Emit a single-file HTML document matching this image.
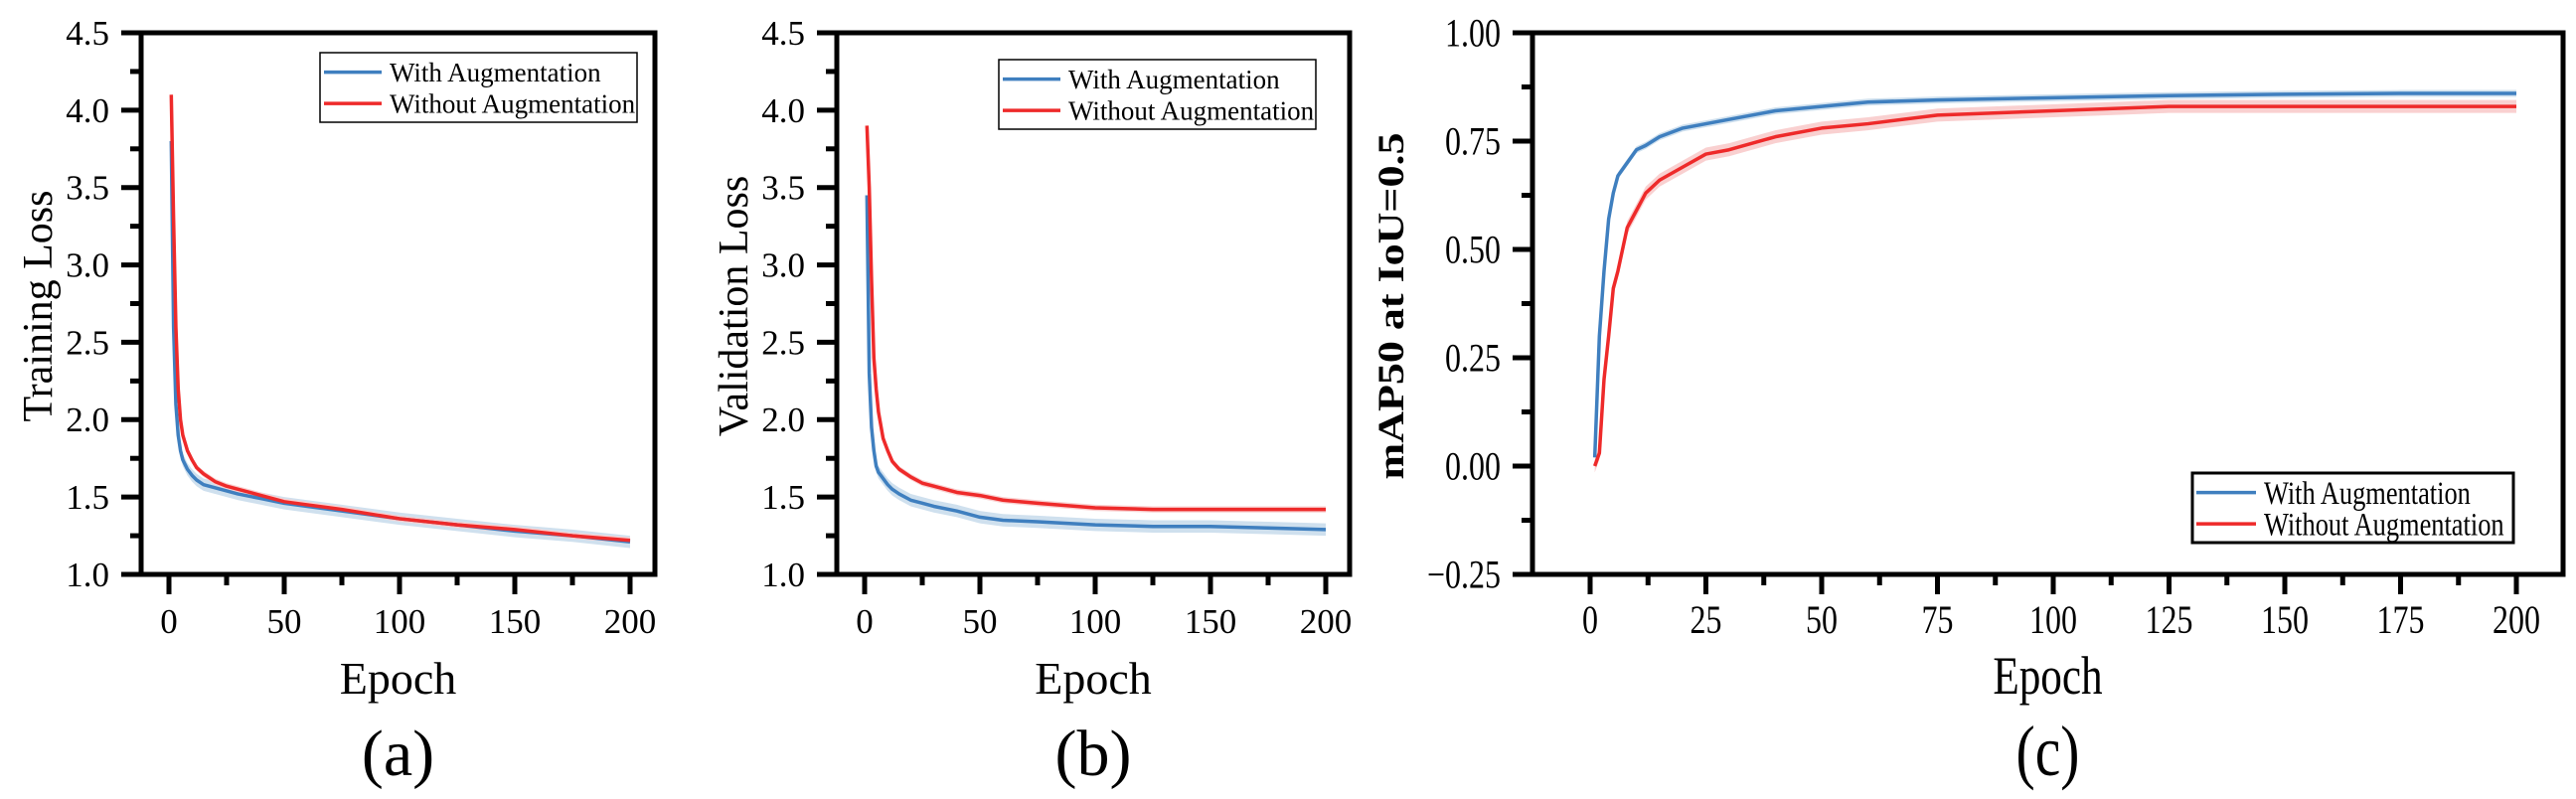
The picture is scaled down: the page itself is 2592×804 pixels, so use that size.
<!DOCTYPE html>
<html><head><meta charset="utf-8"><style>
html,body{margin:0;padding:0;background:#fff;}
svg{display:block;font-family:"Liberation Serif",serif;}
</style></head><body>
<svg id="fig" width="2592" height="804" viewBox="0 0 2592 804" xmlns="http://www.w3.org/2000/svg"></svg>
<script>
const epochs = [1,2,3,4,5,6,8,10,12,15,20,25,30,40,50,60,75,100,125,150,175,200];
const trainWith = [3.8,2.6,2.1,1.9,1.8,1.74,1.68,1.64,1.61,1.58,1.56,1.54,1.52,1.49,1.46,1.44,1.41,1.36,1.32,1.28,1.25,1.21];
const trainWithout = [4.1,3.3,2.6,2.2,2.0,1.9,1.8,1.74,1.69,1.65,1.60,1.57,1.55,1.51,1.47,1.45,1.42,1.36,1.32,1.29,1.25,1.22];
const valWith = [3.45,2.3,1.95,1.8,1.7,1.66,1.62,1.58,1.55,1.52,1.48,1.46,1.44,1.41,1.37,1.35,1.34,1.32,1.31,1.31,1.30,1.29];
const valWithout = [3.9,3.5,2.9,2.4,2.2,2.05,1.88,1.8,1.73,1.68,1.63,1.59,1.57,1.53,1.51,1.48,1.46,1.43,1.42,1.42,1.42,1.42];
const mapWith = [0.02,0.3,0.45,0.57,0.63,0.67,0.70,0.73,0.74,0.76,0.78,0.79,0.80,0.82,0.83,0.84,0.845,0.85,0.855,0.858,0.86,0.86];
const mapWithout = [0.0,0.03,0.2,0.3,0.41,0.45,0.55,0.59,0.63,0.66,0.69,0.72,0.73,0.76,0.78,0.79,0.81,0.82,0.83,0.83,0.83,0.83];
const lossTicks = ["1.0","1.5","2.0","2.5","3.0","3.5","4.0","4.5"];
const mapTicks = ["\u22120.25","0.00","0.25","0.50","0.75","1.00"];
const epochTicksAB = ["0","50","100","150","200"];
const epochTicksC = ["0","25","50","75","100","125","150","175","200"];
const legendLabels = ["With Augmentation","Without Augmentation"];

const NS="http://www.w3.org/2000/svg";
const svg=document.getElementById('fig');
const BLUE="#3f7fbf", RED="#ee2a2a", BBAND="#cfe0ee", RBAND="#f9d0d0";
function mk(tag,attrs,parent){const e=document.createElementNS(NS,tag);for(const k in attrs)e.setAttribute(k,attrs[k]);(parent||svg).appendChild(e);return e;}

function panel(cfg){
  const g=mk('g',{});
  
  
  const {L,R,T,B,x0,x1,ymin,ymax}=cfg;
  const X=v=>x0+(v/200)*(x1-x0);
  const Y=v=>B-(v-ymin)/(ymax-ymin)*(B-T);
  const sx=cfg.sx||1;
  const tf=cfg.tickFs||35, ef=cfg.epochFs||46, cf=cfg.capFs||66;
  cfg.series.forEach((s)=>{
    let up=epochs.map((e,i)=>X(e)+','+Y(s.vals[i]+s.band)).join(' ');
    let dn=epochs.map((e,i)=>X(e)+','+Y(s.vals[i]-s.band)).reverse().join(' ');
    const band=mk('polygon',{points:up+' '+dn,fill:s.bandColor,stroke:'none'},g);
    
    
  });
  cfg.series.forEach((s)=>{
    const pl=mk('polyline',{points:epochs.map((e,i)=>X(e)+','+Y(s.vals[i])).join(' '),fill:'none',stroke:s.color,'stroke-width':3.5,'stroke-linejoin':'round'},g);
    
    
  });
  const fr=mk('rect',{x:L,y:T,width:R-L,height:B-T,fill:'none',stroke:'#000','stroke-width':5},g);
  
  
  const yt=cfg.yTicks;
  const step=(ymax-ymin)/(yt.length-1);
  for(let i=0;i<yt.length;i++){
    const v=ymin+i*step, y=Y(v);
    mk('line',{x1:L-20,x2:L,y1:y,y2:y,stroke:'#000','stroke-width':5},g);
    if(i<yt.length-1){const ym=Y(v+step/2);mk('line',{x1:L-11,x2:L,y1:ym,y2:ym,stroke:'#000','stroke-width':5},g);}
    const t=mk('text',{x:0,y:0,'font-size':tf,'text-anchor':'end',transform:`translate(${cfg.yLabX},${y+tf*0.34}) scale(${sx},1)`},g);
    t.textContent=yt[i];
    
    
  }
  const xt=cfg.xTicks, xs=200/(xt.length-1);
  for(let i=0;i<xt.length;i++){
    const v=i*xs,x=X(v);
    mk('line',{x1:x,x2:x,y1:B,y2:B+20,stroke:'#000','stroke-width':5},g);
    if(i<xt.length-1){const xm=X(v+xs/2);mk('line',{x1:xm,x2:xm,y1:B,y2:B+11,stroke:'#000','stroke-width':5},g);}
    const t=mk('text',{x:0,y:0,'font-size':tf,'text-anchor':'middle',transform:`translate(${x},${637}) scale(${sx},1)`},g);
    t.textContent=xt[i];
    
    
  }
  const xtl=mk('text',{x:0,y:0,'font-size':ef,'text-anchor':'middle',transform:`translate(${(L+R)/2},${698}) scale(${sx},1)`},g);
  xtl.textContent='Epoch';
  
  
  const ytl=mk('text',{x:0,y:0,'font-size':cfg.ytSize||42,'font-weight':cfg.ytBold?'bold':'normal','text-anchor':'middle',transform:`translate(${cfg.ytX},${308}) rotate(-90) scale(1,${cfg.ytSy||1})`},g);
  ytl.textContent=cfg.yTitle;
  
  
  const cap=mk('text',{x:0,y:0,'font-size':cf,'text-anchor':'middle',transform:`translate(${(L+R)/2},${780}) scale(${sx},1)`},g);
  cap.textContent=cfg.caption;
  
  
  const lg=mk('g',{},g);
  
  
  const Lg=cfg.legend;
  mk('rect',{x:Lg.x,y:Lg.y,width:Lg.w,height:Lg.h,fill:'#fff',stroke:'#000','stroke-width':Lg.sw},lg);
  cfg.series.forEach((s,i)=>{
    const ry=Lg.y+Lg.h*(i===0?0.28:0.73);
    mk('line',{x1:Lg.x+4,x2:Lg.x+Lg.lineW,y1:ry,y2:ry,stroke:s.color,'stroke-width':3.5},lg);
    const t=mk('text',{x:0,y:0,'font-size':Lg.fs,transform:`translate(${Lg.x+Lg.lineW+8},${ry+Lg.fs*0.34}) scale(${sx},1)`},lg);
    t.textContent=legendLabels[i];
    
    
  });
}

panel({name:'panel-a-training-loss',L:142,R:659,T:33,B:578,x0:170,x1:634,ymin:1.0,ymax:4.5,
  yTicks:lossTicks,xTicks:epochTicksAB,yLabX:110,yTitle:'Training Loss',ytX:52,caption:'(a)',
  series:[{key:'train-with',vals:trainWith,band:0.04,color:BLUE,bandColor:BBAND},{key:'train-without',vals:trainWithout,band:0.02,color:RED,bandColor:RBAND}],
  legend:{x:322,y:53,w:319,h:70,sw:1.5,lineW:62,fs:27}});
panel({name:'panel-b-validation-loss',L:842,R:1358,T:33,B:578,x0:870,x1:1334,ymin:1.0,ymax:4.5,
  yTicks:lossTicks,xTicks:epochTicksAB,yLabX:810,yTitle:'Validation Loss',ytX:752,caption:'(b)',
  series:[{key:'val-with',vals:valWith,band:0.04,color:BLUE,bandColor:BBAND},{key:'val-without',vals:valWithout,band:0.02,color:RED,bandColor:RBAND}],
  legend:{x:1005,y:60,w:319,h:70,sw:1.5,lineW:62,fs:27}});
panel({name:'panel-c-map50',L:1542,R:2579,T:33,B:578,x0:1600,x1:2532,ymin:-0.25,ymax:1.0,sx:0.8,tickFs:40,epochFs:54,capFs:72,
  yTicks:mapTicks,xTicks:epochTicksC,yLabX:1510,yTitle:'mAP50 at IoU=0.5',ytX:1412,ytBold:true,ytSize:44,ytSy:0.85,caption:'(c)',
  series:[{key:'map-with',vals:mapWith,band:0.008,color:BLUE,bandColor:BBAND},{key:'map-without',vals:mapWithout,band:0.015,color:RED,bandColor:RBAND}],
  legend:{x:2206,y:476,w:323,h:70,sw:3,lineW:64,fs:33}});
</script>
</body></html>
